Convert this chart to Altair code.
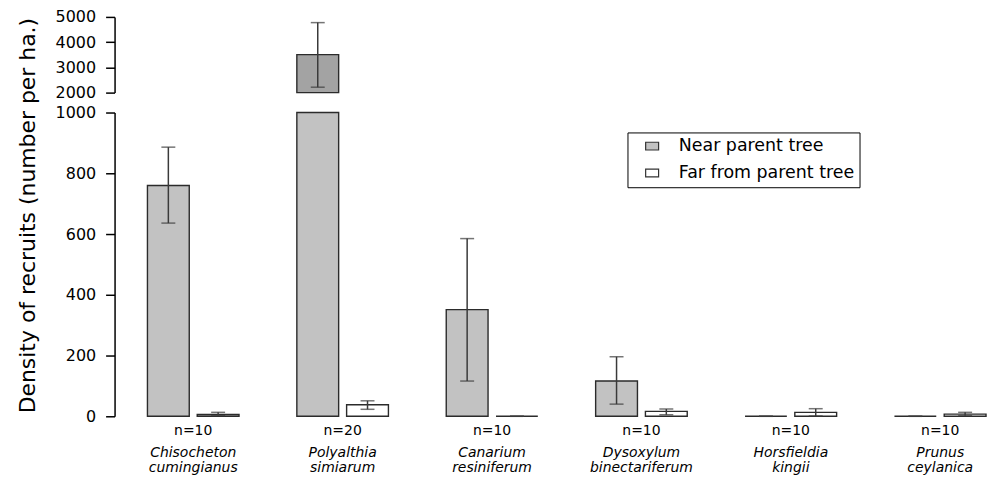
import altair as alt
import pandas as pd

species = ["Chisocheton cumingianus", "Polyalthia simiarum", "Canarium resiniferum",
           "Dysoxylum binectariferum", "Horsfieldia kingii", "Prunus ceylanica"]
n_plots = [10, 20, 10, 10, 10, 10]
groups = ["Near parent tree", "Far from parent tree"]

near = [760, 3506, 351, 116, 0, 0]
near_lo = [636, 2214, 116, 40, 0, 0]
near_hi = [886, 4774, 585, 196, 0, 0]

far = [6, 38, 0, 16, 13, 7]
far_lo = [2, 23, 0, 5, 1, 2]
far_hi = [13, 51, 0, 24, 25, 13]

rows = []
for i, sp in enumerate(species):
    rows.append(dict(species=sp, group=groups[0], value=near[i], lo=near_lo[i], hi=near_hi[i], n=n_plots[i]))
    rows.append(dict(species=sp, group=groups[1], value=far[i], lo=far_lo[i], hi=far_hi[i], n=n_plots[i]))
df = pd.DataFrame(rows)

FONT = "DejaVu Sans"
BREAK = 1000
W = 878

x_scale = alt.Scale(domain=species, paddingInner=0.387, paddingOuter=0.12, align=0.917)
x_lower = alt.X("species:N", scale=x_scale,
                axis=alt.Axis(title=None, labelExpr="split(datum.label, ' ')", labelFont=FONT,
                              labelFontStyle="italic", labelFontSize=14, labelLineHeight=15,
                              labelPadding=29, domain=False, ticks=False, labelAngle=0,
                              labelColor="black", labelBaseline="top", labelLimit=300))
x_upper = alt.X("species:N", scale=x_scale, axis=None)
xoff = alt.XOffset("group:N", sort=groups, scale=alt.Scale(domain=groups, paddingInner=0.16))

y_axis_lower = alt.Axis(values=[0, 200, 400, 600, 800, 1000], format="d",
                        title="Density of recruits (number per ha.)",
                        titleFont=FONT, titleFontSize=22, titleFontWeight="normal", titleColor="black",
                        titleX=-75, titleY=103, titleBaseline="bottom", titleAngle=270,
                        labelFont=FONT, labelFontSize=16, labelColor="black", labelPadding=10,
                        tickSize=9, tickWidth=1.5, tickColor="black", domainColor="black",
                        domainWidth=1.5, grid=False)
y_scale_lower = alt.Scale(domain=[0, BREAK], nice=False, zero=True)

y_axis_upper = alt.Axis(values=[2000, 3000, 4000, 5000], format="d", title=None,
                        labelFont=FONT, labelFontSize=16, labelColor="black", labelPadding=10,
                        tickSize=9, tickWidth=1.5, tickColor="black", domainColor="black",
                        domainWidth=1.5, grid=False)
y_scale_upper = alt.Scale(domain=[2000, 5000], nice=False, zero=False)

base = alt.Chart(df)

lower_bars = base.transform_calculate(
    shown=f"min(datum.value, {BREAK})"
).mark_bar(stroke="#2b2b2b", strokeWidth=1.4).encode(
    x=x_lower, xOffset=xoff,
    y=alt.Y("shown:Q", scale=y_scale_lower, axis=y_axis_lower),
    color=alt.Color("group:N", sort=groups,
                    scale=alt.Scale(domain=groups, range=["#c2c2c2", "#ffffff"]),
                    legend=alt.Legend(title=None, orient="none", legendX=515, legendY=116,
                                      strokeColor="black", fillColor="white", padding=5,
                                      labelFont=FONT, labelFontSize=17.5, labelColor="black",
                                      labelLimit=400,
                                      symbolType="M-1,-0.6H1V0.6H-1Z", symbolSize=169,
                                      symbolStrokeColor="#333333", symbolStrokeWidth=1.2,
                                      symbolOffset=11, labelOffset=18, rowPadding=8)),
)

lower_err = base.transform_filter(f"datum.hi <= {BREAK}")
lower_rule = lower_err.mark_rule(color="#3a3a3a", strokeWidth=1.5).encode(
    x=x_lower, xOffset=xoff,
    y=alt.Y("lo:Q", scale=y_scale_lower, axis=y_axis_lower), y2="hi:Q")
lower_cap_hi = lower_err.mark_tick(color="#3a3a3a", thickness=1.5, size=14, orient="horizontal").encode(
    x=x_lower, xOffset=xoff, y=alt.Y("hi:Q", scale=y_scale_lower, axis=y_axis_lower))
lower_cap_lo = lower_err.mark_tick(color="#3a3a3a", thickness=1.5, size=14, orient="horizontal").encode(
    x=x_lower, xOffset=xoff, y=alt.Y("lo:Q", scale=y_scale_lower, axis=y_axis_lower))

n_text = base.transform_filter(alt.datum.group == groups[0]).transform_calculate(
    nlabel="'n=' + datum.n"
).mark_text(dy=15, fontSize=14, font=FONT, baseline="middle", color="black").encode(
    x=x_lower, y=alt.Y(datum=0, scale=y_scale_lower, axis=y_axis_lower), text="nlabel:N")

lower = alt.layer(lower_bars, lower_rule, lower_cap_hi, lower_cap_lo, n_text).properties(width=W, height=305)

upper_data = base.transform_filter(f"datum.value > {BREAK}").transform_calculate(base0="2000")
upper_bar = upper_data.mark_bar(stroke="#2b2b2b", strokeWidth=1.4, fill="#a3a3a3").encode(
    x=x_upper, xOffset=xoff,
    y=alt.Y("value:Q", scale=y_scale_upper, axis=y_axis_upper), y2="base0:Q")
upper_rule = upper_data.mark_rule(color="#3a3a3a", strokeWidth=1.5).encode(
    x=x_upper, xOffset=xoff,
    y=alt.Y("lo:Q", scale=y_scale_upper, axis=y_axis_upper), y2="hi:Q")
upper_cap_hi = upper_data.mark_tick(color="#3a3a3a", thickness=1.5, size=14, orient="horizontal").encode(
    x=x_upper, xOffset=xoff, y=alt.Y("hi:Q", scale=y_scale_upper, axis=y_axis_upper))
upper_cap_lo = upper_data.mark_tick(color="#3a3a3a", thickness=1.5, size=14, orient="horizontal").encode(
    x=x_upper, xOffset=xoff, y=alt.Y("lo:Q", scale=y_scale_upper, axis=y_axis_upper))

upper = alt.layer(upper_bar, upper_rule, upper_cap_hi, upper_cap_lo).properties(width=W, height=76)

chart = alt.vconcat(upper, lower, spacing=20, bounds="flush").properties(
    autosize=alt.AutoSizeParams(type="pad"),
    padding={"left": 8, "top": 0, "right": 0, "bottom": 0},
    background="white",
).configure_view(strokeWidth=0)

chart.save("out.html", embed_options={"renderer": "svg", "actions": False})
